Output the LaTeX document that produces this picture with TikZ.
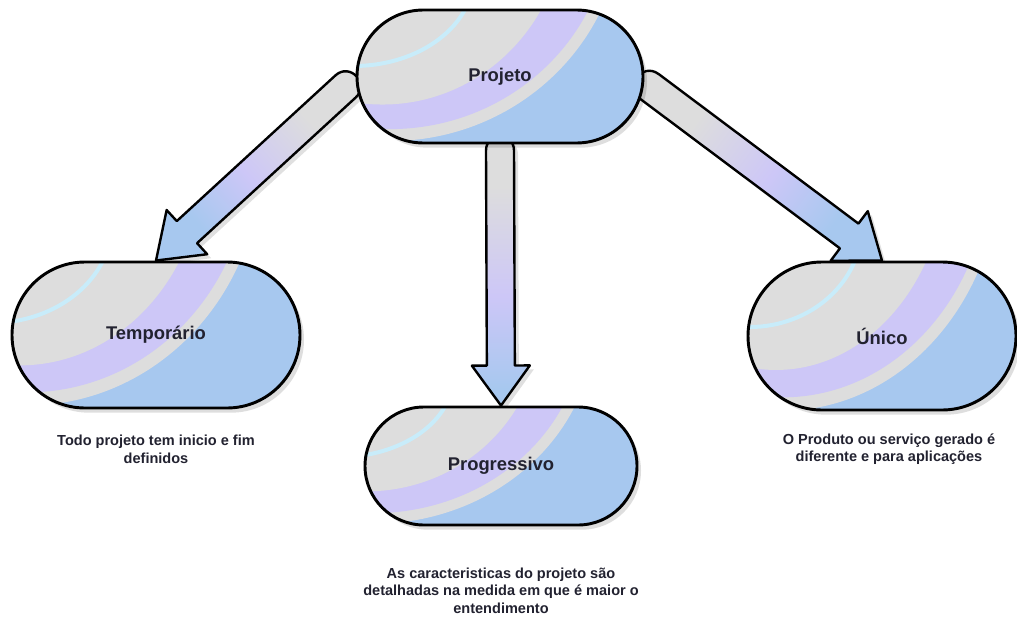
\documentclass[tikz,border=0pt]{standalone}
\usepackage{fontspec}
\setmainfont{Liberation Sans}
\usetikzlibrary{shapes.misc,calc,shadows,backgrounds}

\definecolor{glgray}{HTML}{DDDDDD}
\definecolor{gllav}{HTML}{CDC7F7}
\definecolor{glblue}{HTML}{A7C8EF}
\definecolor{glcyan}{HTML}{C8ECFA}
\definecolor{inktext}{HTML}{222230}

% colour run along a block arrow, from tail to tip
\pgfdeclarehorizontalshading{arrowglass}{100bp}{%
  color(0bp)=(glgray); color(35bp)=(glgray); color(55bp)=(gllav);
  color(72bp)=(glblue); color(100bp)=(glblue)}

% block arrow with a round tail: #1 tail, #2 tip, #3 shaft half width,
% #4 head half width, #5 head length, #6 shading angle
\newcommand\glassarrow[6]{%
  \coordinate (ga-b) at ($(#2)!#5!(#1)$);
  \coordinate (ga-c) at ($(#1)!-1.333*#3!(#2)$);
  \path[draw=black, line width=1.8pt, line join=round, shade, shading=arrowglass,
        shading angle=#6,
        drop shadow={shadow xshift=3pt, shadow yshift=-3pt, opacity=0.12, fill=black}]
    (#2) -- ($(ga-b)!#4!90:(#2)$) -- ($(ga-b)!#3!90:(#2)$) -- ($(#1)!#3!90:(#2)$)
    .. controls ($(ga-c)!#3!90:(#1)$) and ($(ga-c)!#3!-90:(#1)$) .. ($(#1)!#3!-90:(#2)$)
    -- ($(ga-b)!#3!-90:(#2)$) -- ($(ga-b)!#4!-90:(#2)$) -- cycle;
}

\tikzset{
  glassnode/.style={rounded rectangle, draw=black, line width=2.2pt, inner sep=0pt,
    fill=glblue, text=inktext,
    font=\fontsize{13.8}{16}\selectfont\bfseries,
    drop shadow={shadow xshift=3pt, shadow yshift=-3.5pt, opacity=0.13, fill=black},
    path picture={
      \begin{scope}[shift={(path picture bounding box.center)},
          x={($(path picture bounding box.east)-(path picture bounding box.center)$)},
          y={($(path picture bounding box.south)-(path picture bounding box.center)$)}]
        \fill[glblue] (-1.3,-1.3) rectangle (1.3,1.3);
        \fill[glgray] (-0.55,-2.5) ellipse [x radius=1.63, y radius=3.4];
        \fill[gllav] (-0.55,-2.5) ellipse [x radius=1.55, y radius=3.22];
        \fill[glgray] (-0.6,-2.5) ellipse [x radius=1.28, y radius=2.85];
        \draw[glcyan, line width=3pt] (-0.8,-1.6) ellipse [x radius=0.84, y radius=1.37];
      \end{scope}}},
  notetext/.style={align=center, text=inktext, inner sep=0pt,
    font=\fontsize{10.9}{13.1}\selectfont\bfseries}
}

\begin{document}
\begin{tikzpicture}[x=0.75pt, y=-0.75pt]
  \useasboundingbox (0,0) rectangle (1017,621);

  % main node and the three characteristics
  \node[glassnode, minimum width=214.5pt, minimum height=99.75pt] (proj) at (500,76.5) {Projeto};
  \node[glassnode, minimum width=216pt, minimum height=109.5pt] (temp) at (156,335) {Temporário};
  \node[glassnode, minimum width=204pt, minimum height=88.5pt] (prog) at (501,466) {Progressivo};
  \node[glassnode, minimum width=201pt, minimum height=111pt] (unico) at (882,336) {Único};

  % notes under the characteristics
  \node[notetext] (ntemp) at ($(temp.south)+(0,40)$) {Todo projeto tem inicio e fim\\definidos};
  \node[notetext] (nunico) at ($(unico.south)+(7,37.5)$) {O Produto ou serviço gerado é\\diferente e para aplicações};
  \node[notetext] (nprog) at ($(prog.south)+(0,64)$) {As caracteristicas do projeto são\\detalhadas na medida em que é maior o\\entendimento};

  % block arrows behind the nodes, on a white ground
  \coordinate (tl) at ($(proj.west)+(-10,10)$);
  \coordinate (tm) at ($(proj.south)+(0,6)$);
  \coordinate (tr) at ($(proj.east)+(5,10)$);
  \begin{scope}[on background layer]
    \fill[white] (0,0) rectangle (1017,621);
    \glassarrow{tl}{temp.north}{11.25pt}{22.5pt}{31.5pt}{222.6}
    \glassarrow{tm}{prog.north}{10.5pt}{21.75pt}{30pt}{270}
    \glassarrow{tr}{unico.north}{11.6pt}{23.25pt}{30.75pt}{323.1}
  \end{scope}
\end{tikzpicture}
\end{document}
